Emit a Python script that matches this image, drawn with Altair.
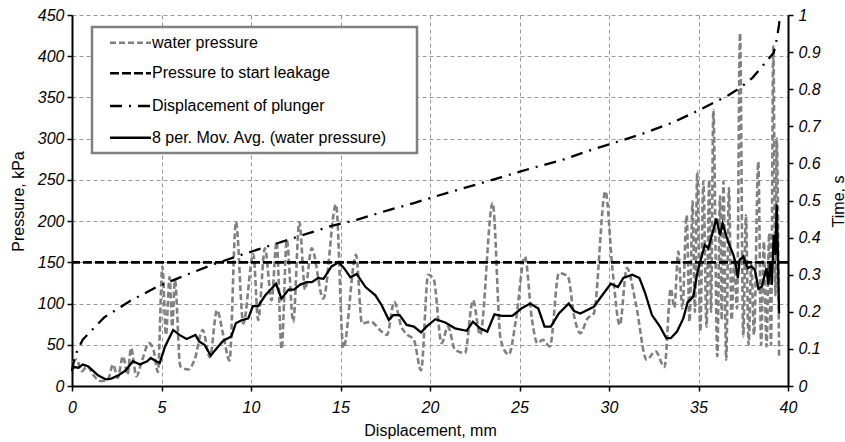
import altair as alt
import pandas as pd

FONT = "Liberation Sans"

# ---- data ----
wp_x = [0.0, 0.25, 0.55, 0.85, 1.2, 1.6, 2.0, 2.3, 2.55, 2.85, 3.1, 3.3, 3.6, 3.9, 4.3, 4.55, 4.8,
        5.05, 5.25, 5.45, 5.6, 5.75, 6.05, 6.5, 6.85, 7.3, 7.7, 8.1, 8.45, 8.8, 9.16, 9.57,
        10.13, 10.4, 10.78, 11.15, 11.43, 11.71, 12.0, 12.36, 12.7, 13.02, 13.39, 14.04,
        14.75, 15.16, 15.87, 16.2, 16.7, 17.2, 17.6, 18.0, 18.4, 18.75, 19.1, 19.5, 19.9,
        20.2, 20.65, 21.0, 21.4, 21.95, 22.4, 22.8, 23.5, 23.95, 24.4, 24.8, 25.3, 25.7,
        26.0, 26.3, 26.7, 27.2, 27.7, 28.05, 28.4, 28.8, 29.15, 29.8, 30.2, 30.6, 31.0,
        31.5, 32.1, 32.6, 33.1, 33.45, 33.65, 33.87, 34.1, 34.34, 34.5, 34.67, 34.8, 34.93,
        35.1, 35.27, 35.45, 35.6, 35.7, 35.83, 36.05, 36.2, 36.3, 36.39, 36.55, 36.7, 36.85,
        37.0, 37.15, 37.32, 37.5, 37.65, 37.8, 37.95, 38.1, 38.34, 38.5, 38.65, 38.8, 38.95,
        39.05, 39.18, 39.3, 39.37, 39.5]
wp_y = [28, 32, 18, 24, 13, 6, 8, 26, 10, 36, 14, 46, 12, 30, 52, 44, 17,
        145, 62, 132, 72, 128, 24, 20, 32, 68, 35, 92, 62, 31, 199, 76,
        160, 80, 167, 104, 175, 45, 177, 78, 199, 117, 167, 106,
        220, 46, 159, 76, 78, 68, 62, 102, 72, 62, 56, 19, 135,
        130, 52, 72, 44, 40, 104, 62, 222, 56, 38, 80, 157, 80,
        52, 56, 48, 137, 133, 85, 64, 82, 88, 236, 140, 74, 143,
        100, 32, 42, 23, 118, 95, 163, 94, 207, 78, 224, 90, 260,
        66, 248, 72, 250, 90, 335, 36, 230, 80, 248, 32, 240, 80,
        155, 94, 428, 60, 207, 50, 150, 62, 272, 50, 175, 48, 185,
        50, 412, 110, 300, 34]

ma_x = [0.0, 0.15, 0.35, 0.6, 0.9, 1.45, 1.9, 2.2, 2.6, 3.0, 3.4, 3.8, 4.2, 4.4, 4.7, 4.9, 5.2,
        5.65, 6.0, 6.4, 6.9, 7.1, 7.4, 7.75, 8.1, 8.45, 8.9, 9.15, 9.5, 9.85, 10.1, 10.4,
        10.8, 11.1, 11.4, 11.7, 12.1, 12.4, 12.75, 13.1, 13.4, 13.75, 14.05, 14.5, 14.9,
        15.2, 15.55, 15.9, 16.4, 16.95, 17.3, 17.7, 17.95, 18.3, 18.7, 19.1, 19.5, 19.8,
        20.3, 20.85, 21.4, 22.05, 22.4, 22.8, 23.2, 23.6, 24.0, 24.6, 25.1, 25.6, 26.05,
        26.4, 26.75, 27.2, 27.75, 28.05, 28.4, 29.15, 29.55, 30.1, 30.5, 30.8, 31.3, 31.7,
        32.0, 32.4, 32.85, 33.2, 33.45, 33.8, 34.15, 34.4, 34.7, 34.95, 35.35, 35.55, 36.0,
        36.2, 36.35, 36.65, 36.95, 37.05, 37.2, 37.3, 37.5, 37.75, 37.95, 38.15, 38.35,
        38.55, 38.7, 38.8, 38.9, 39.0, 39.1, 39.2, 39.3, 39.37, 39.45, 39.5]
ma_y = [21, 23, 22, 26, 24, 13, 8, 9, 13, 19, 30, 26, 30, 34, 30, 28, 48,
        68, 62, 57, 62, 54, 50, 37, 46, 55, 60, 76, 80, 82, 97, 97,
        110, 117, 124, 106, 117, 117, 123, 126, 126, 131, 130, 145, 150,
        143, 132, 136, 120, 110, 98, 80, 86, 86, 74, 72, 65, 72,
        81, 77, 70, 67, 78, 70, 66, 87, 85, 85, 94, 100, 94,
        72, 72, 88, 100, 91, 88, 96, 108, 124, 120, 131, 135, 131,
        114, 86, 72, 58, 58, 66, 82, 102, 108, 139, 171, 167, 203,
        183, 197, 175, 159, 151, 131, 153, 157, 143, 145, 141, 118,
        121, 135, 143, 123, 151, 123, 183, 159, 220, 147, 88]

t_x = [0.0, 0.15, 0.6, 1.8, 3.2, 4.7, 6.3, 7.85, 9.5, 11.8, 14.4, 15.9, 17.6, 19.1, 20.3,
       24.0, 25.6, 27.3, 28.8, 30.4, 32.0, 33.6, 35.1, 36.65, 37.3, 38.0, 38.8, 39.2,
       39.37, 39.5, 39.55]
t_y = [0.04, 0.08, 0.125, 0.185, 0.228, 0.266, 0.298, 0.327, 0.354, 0.39, 0.43, 0.448,
       0.473, 0.493, 0.511, 0.563, 0.586, 0.608, 0.633, 0.657, 0.682, 0.711, 0.745, 0.783,
       0.803, 0.83, 0.875, 0.898, 0.934, 0.974, 1.0]

leak_pressure = [150]

x_ticks = [0, 5, 10, 15, 20, 25, 30, 35, 40]
p_ticks = [0, 50, 100, 150, 200, 250, 300, 350, 400, 450]
t_ticks = [0, 0.1, 0.2, 0.3, 0.4, 0.5, 0.6, 0.7, 0.8, 0.9, 1.0]

legend_labels = ["water pressure", "Pressure to start leakage",
                 "Displacement of plunger", "8 per. Mov. Avg. (water pressure)"]

# ---- frames ----
wp_df = pd.DataFrame({"x": wp_x, "p": wp_y})
ma_df = pd.DataFrame({"x": ma_x, "p": ma_y})
t_df = pd.DataFrame({"x": t_x, "t": t_y})
leak_df = pd.DataFrame({"p": leak_pressure})

GRAY = "#808080"
WP_DASH = [6, 3]
LEAK_DASH = [9, 3]
PLUNGER_DASH = [12, 7, 2, 7]

label_style = dict(labelFont=FONT, labelFontSize=16, labelFontStyle="italic", labelColor="black")

x_enc = alt.X(
    "x:Q",
    scale=alt.Scale(domain=[0, 40], nice=False, zero=False),
    axis=alt.Axis(values=x_ticks, title="Displacement, mm", grid=True,
                  labelFlush=False, labelPadding=8, titleX=358, titleY=44,
                  titleBaseline="middle", **label_style),
)
yp_enc = alt.Y(
    "p:Q",
    scale=alt.Scale(domain=[0, 450], nice=False),
    axis=alt.Axis(values=p_ticks, orient="left", title="Pressure, kPa", grid=True,
                  labelPadding=3, titleX=-54, titleY=186, titleAngle=270,
                  titleAlign="center", titleBaseline="middle", **label_style),
)
yt_enc = alt.Y(
    "t:Q",
    scale=alt.Scale(domain=[0, 1], nice=False),
    axis=alt.Axis(values=t_ticks, orient="right", title="Time, s", grid=False,
                  format=".1~f", labelPadding=5, labelOverlap=False,
                  titleX=50, titleY=186, titleAngle=270,
                  titleAlign="center", titleBaseline="middle", **label_style),
)

wp_line = alt.Chart(wp_df).mark_line(
    color=GRAY, strokeWidth=2.6, strokeDash=WP_DASH, interpolate="monotone"
).encode(x=x_enc, y=yp_enc)

leak_rule = alt.Chart(leak_df).mark_rule(
    color="black", strokeWidth=2.6, strokeDash=LEAK_DASH
).encode(y=yp_enc)

ma_line = alt.Chart(ma_df).mark_line(
    color="black", strokeWidth=2.3
).encode(x=x_enc, y=yp_enc)

plunger = alt.Chart(t_df).mark_line(
    color="black", strokeWidth=2.3, strokeDash=PLUNGER_DASH
).encode(x=x_enc, y=yt_enc)

left = alt.layer(wp_line, leak_rule, ma_line)

# ---- legend box ----
box = alt.Chart(pd.DataFrame({"label": [""]})).mark_rect(
    fill="white", stroke=GRAY, strokeWidth=2.5
).encode(x=alt.value(20), x2=alt.value(345), y=alt.value(12), y2=alt.value(138))

row_y = [27.7, 58.3, 91, 122.7]
styles = [
    dict(color=GRAY, strokeDash=WP_DASH, strokeWidth=2.6),
    dict(color="black", strokeDash=LEAK_DASH, strokeWidth=2.6),
    dict(color="black", strokeDash=PLUNGER_DASH, strokeWidth=2.6),
    dict(color="black", strokeWidth=2.6),
]
legend_layers = [box]
for lab, yy, st in zip(legend_labels, row_y, styles):
    d = pd.DataFrame({"label": [lab]})
    legend_layers.append(
        alt.Chart(d).mark_rule(**st).encode(x=alt.value(38), x2=alt.value(79), y=alt.value(yy))
    )
    legend_layers.append(
        alt.Chart(d).mark_text(align="left", baseline="middle", font=FONT, fontSize=16,
                               color="black").encode(x=alt.value(80), y=alt.value(yy), text="label:N")
    )

right = alt.layer(plunger, *legend_layers)

chart = alt.layer(left, right).resolve_scale(y="independent").properties(
    width=716, height=371,
    padding={"left": 72, "top": 15, "right": 57, "bottom": 56},
    autosize=alt.AutoSizeParams(type="none"),
).configure_view(stroke=None).configure_axis(
    domainColor="black", domainWidth=2, tickColor="black", tickWidth=1.5, tickSize=5,
    titleFont=FONT, titleFontSize=16, titleFontWeight="normal", titleColor="black",
    gridColor="#999999", gridDash=[4, 3], gridWidth=1,
)

chart.save("out.html", embed_options={"renderer": "svg", "actions": False})
